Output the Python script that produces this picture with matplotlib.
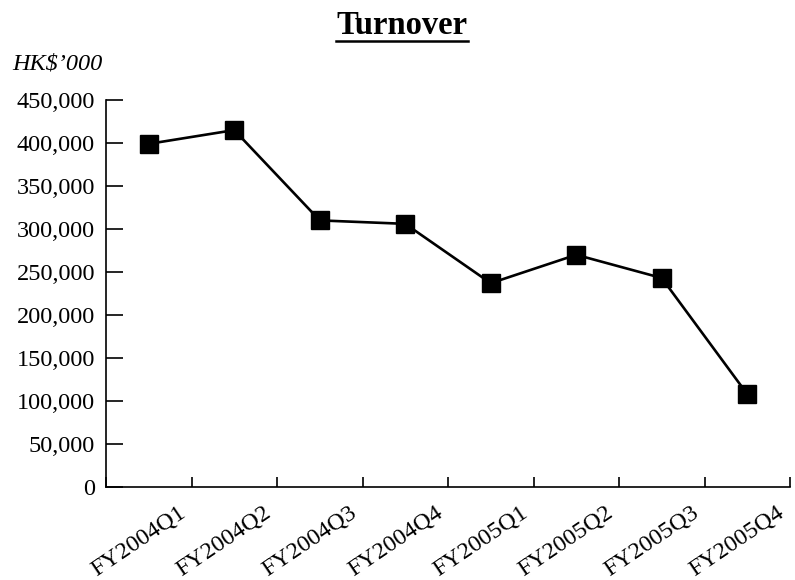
import matplotlib
matplotlib.use("Agg")
import matplotlib.pyplot as plt
from matplotlib.ticker import FuncFormatter, FixedLocator
from matplotlib.transforms import ScaledTranslation
from matplotlib.lines import Line2D

categories = ["FY2004Q1", "FY2004Q2", "FY2004Q3", "FY2004Q4",
              "FY2005Q1", "FY2005Q2", "FY2005Q3", "FY2005Q4"]
turnover = [399000, 415000, 310000, 306000, 237000, 270000, 243000, 108000]
y_ticks = [0, 50000, 100000, 150000, 200000, 250000, 300000, 350000, 400000, 450000]

plt.rcParams['font.family'] = ['Liberation Serif', 'DejaVu Serif']

fig = plt.figure(figsize=(7.95, 5.8), dpi=100)
ax = fig.add_axes([106/795, 1-487/580, (790-106)/795, (487-100)/580])

x = [i + 0.5 for i in range(len(categories))]
ax.plot(x, turnover, color='black', linewidth=1.9, marker='s', markersize=12.5,
        markerfacecolor='black', markeredgecolor='black', clip_on=False)

ax.set_xlim(0, len(categories))
ax.set_ylim(0, 450000)

for s in ['top', 'right']:
    ax.spines[s].set_visible(False)
for s in ['left', 'bottom']:
    ax.spines[s].set_linewidth(1.2)

ax.yaxis.set_major_locator(FixedLocator(y_ticks))
ax.yaxis.set_major_formatter(FuncFormatter(lambda v, p: f"{v:,.0f}"))
ax.tick_params(axis='y', direction='in', length=12, width=1.2, pad=8, labelsize=17.5)

ax.set_xticks(x)
ax.set_xticklabels(categories)
ax.set_xticks(range(0, len(categories) + 1), minor=True)
ax.tick_params(axis='x', which='major', length=0, labelsize=17.5, pad=0)
ax.tick_params(axis='x', which='minor', direction='in', length=7, width=1.2)

offset = ScaledTranslation(29/100, -15/100, fig.dpi_scale_trans)
for lab in ax.get_xticklabels():
    lab.set_rotation(34)
    lab.set_ha('right')
    lab.set_va('top')
    lab.set_rotation_mode('anchor')
    lab.set_transform(lab.get_transform() + offset)

fig.text(12/795, 1-64/580, "HK$\u2019000", fontsize=17.5, style='italic',
         ha='left', va='center')

title = fig.text(402/795, 1-26/580, "Turnover", fontsize=23.5, fontweight='bold',
                 ha='center', va='center')
fig.canvas.draw()
bb = title.get_window_extent()
uy = bb.y0 + 1
fig.add_artist(Line2D([bb.x0, bb.x1], [uy, uy], transform=None,
                      color='black', linewidth=1.8))

fig.savefig("out.png", dpi=100)
